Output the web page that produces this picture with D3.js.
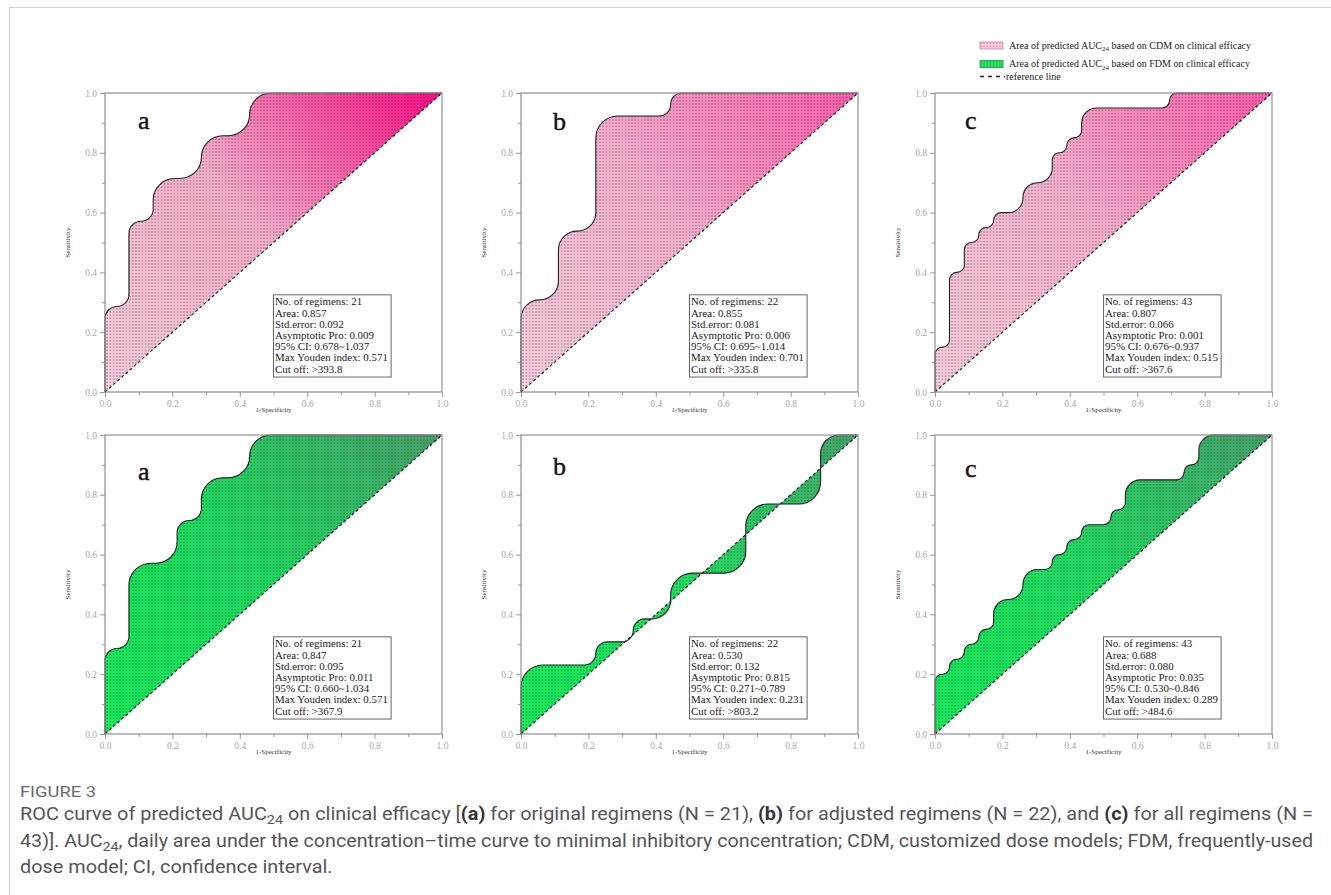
<!DOCTYPE html>
<html><head><meta charset="utf-8">
<script src="https://cdn.jsdelivr.net/npm/d3@7"></script>
<style>body{margin:0;background:#fff}svg{display:block}</style>
</head><body><svg id="c" width="1331" height="895"></svg>
<script>
// ---------- data ----------
const majorTicks = [0.0, 0.2, 0.4, 0.6, 0.8, 1.0];
const minorTicks = [0.1, 0.3, 0.5, 0.7, 0.9];
const panelLetters = ["a", "b", "c"];
const diagonal = [[0, 0], [1, 1]];

// ROC step points [1-specificity, sensitivity]
const rocCdmA = [[0,0],[0,0.286],[0.071,0.286],[0.071,0.571],[0.143,0.571],[0.143,0.714],[0.286,0.714],[0.286,0.857],[0.429,0.857],[0.429,1],[1,1]];
const rocCdmB = [[0,0],[0,0.308],[0.111,0.308],[0.111,0.538],[0.222,0.538],[0.222,0.923],[0.444,0.923],[0.444,1],[1,1]];
const rocCdmC = [[0,0],[0,0.15],[0.043,0.15],[0.043,0.4],[0.087,0.4],[0.087,0.5],[0.13,0.5],[0.13,0.55],[0.174,0.55],[0.174,0.6],[0.261,0.6],[0.261,0.7],[0.348,0.7],[0.348,0.8],[0.391,0.8],[0.391,0.85],[0.435,0.85],[0.435,0.95],[0.696,0.95],[0.696,1],[1,1]];
const rocFdmA = [[0,0],[0,0.286],[0.071,0.286],[0.071,0.571],[0.214,0.571],[0.214,0.714],[0.286,0.714],[0.286,0.857],[0.429,0.857],[0.429,1],[1,1]];
const rocFdmB = [[0,0],[0,0.231],[0.222,0.231],[0.222,0.308],[0.333,0.308],[0.333,0.385],[0.444,0.385],[0.444,0.538],[0.667,0.538],[0.667,0.769],[0.889,0.769],[0.889,1],[1,1]];
const rocFdmC = [[0,0],[0,0.2],[0.043,0.2],[0.043,0.25],[0.087,0.25],[0.087,0.3],[0.13,0.3],[0.13,0.35],[0.174,0.35],[0.174,0.45],[0.261,0.45],[0.261,0.55],[0.348,0.55],[0.348,0.6],[0.391,0.6],[0.391,0.65],[0.435,0.65],[0.435,0.7],[0.522,0.7],[0.522,0.75],[0.565,0.75],[0.565,0.85],[0.739,0.85],[0.739,0.9],[0.783,0.9],[0.783,1],[1,1]];

const statsCdmA = ["No. of regimens: 21","Area: 0.857","Std.error: 0.092","Asymptotic Pro: 0.009","95% CI: 0.678~1.037","Max Youden index: 0.571","Cut off: >393.8"];
const statsCdmB = ["No. of regimens: 22","Area: 0.855","Std.error: 0.081","Asymptotic Pro: 0.006","95% CI: 0.695~1.014","Max Youden index: 0.701","Cut off: >335.8"];
const statsCdmC = ["No. of regimens: 43","Area: 0.807","Std.error: 0.066","Asymptotic Pro: 0.001","95% CI: 0.676~0.937","Max Youden index: 0.515","Cut off: >367.6"];
const statsFdmA = ["No. of regimens: 21","Area: 0.847","Std.error: 0.095","Asymptotic Pro: 0.011","95% CI: 0.660~1.034","Max Youden index: 0.571","Cut off: >367.9"];
const statsFdmB = ["No. of regimens: 22","Area: 0.530","Std.error: 0.132","Asymptotic Pro: 0.815","95% CI: 0.271~0.789","Max Youden index: 0.231","Cut off: >803.2"];
const statsFdmC = ["No. of regimens: 43","Area: 0.688","Std.error: 0.080","Asymptotic Pro: 0.035","95% CI: 0.530~0.846","Max Youden index: 0.289","Cut off: >484.6"];

const legendLabels = ["based on CDM on clinical efficacy", "based on FDM on clinical efficacy", "reference line"];
const xTitle = "1-Specificity", yTitle = "Sensitivity";

// ---------- drawing ----------
const svg = d3.select("#c");
const defs = svg.append("defs");
const SERIF = "'Liberation Serif','Times New Roman',serif";
const SANS = "Roboto,'Noto Sans',sans-serif";

// outer frame
svg.append("path").attr("d", "M9.5,895V7.5H1331").attr("fill", "none").attr("stroke", "#cfcfcf").attr("stroke-width", 1.2);

// dot pattern
const pat = defs.append("pattern").attr("id", "dots").attr("patternUnits", "userSpaceOnUse")
  .attr("width", 3.2).attr("height", 3.2);
pat.append("circle").attr("cx", 1.6).attr("cy", 1.6).attr("r", 0.62).attr("fill", "#1a1a1a").attr("fill-opacity", 0.8);

// step curve with rounded corners (pixel space, built with d3.path)
function roundedStep(pts, R, k) {
  const p = d3.path();
  p.moveTo(pts[0][0], pts[0][1]);
  for (let i = 1; i < pts.length - 1; i++) {
    const A = pts[i - 1], P = pts[i], B = pts[i + 1];
    const d1 = Math.hypot(P[0] - A[0], P[1] - A[1]), d2 = Math.hypot(B[0] - P[0], B[1] - P[1]);
    const r = Math.min(R, d1 / 2, d2 / 2);
    const a = [P[0] + (A[0] - P[0]) * r / d1, P[1] + (A[1] - P[1]) * r / d1];
    const b = [P[0] + (B[0] - P[0]) * r / d2, P[1] + (B[1] - P[1]) * r / d2];
    p.lineTo(a[0], a[1]);
    p.bezierCurveTo(a[0] + (P[0] - a[0]) * k, a[1] + (P[1] - a[1]) * k,
                    b[0] + (P[0] - b[0]) * k, b[1] + (P[1] - b[1]) * k, b[0], b[1]);
  }
  const L = pts[pts.length - 1];
  p.lineTo(L[0], L[1]);
  return p.toString();
}

const colX = [105, 521, 935], rowY = [93, 435], W = 337, H = 299;
const letterDX = [33, 32, 30], letterDY = [[36, 37, 36], [45, 40, 42]];

const panels = [
  {row:0, col:0, roc:rocCdmA, stats:statsCdmA, stops:["#f9d0e2","#f6b0cd","#ff0a86"]},
  {row:0, col:1, roc:rocCdmB, stats:statsCdmB, stops:["#f9d0e2","#f7b4d1","#ff5cae"]},
  {row:0, col:2, roc:rocCdmC, stats:statsCdmC, stops:["#f9d0e2","#f7b4d1","#ff5cae"]},
  {row:1, col:0, roc:rocFdmA, stats:statsFdmA, stops:["#16ef5c","#20dc61","#48a46d"]},
  {row:1, col:1, roc:rocFdmB, stats:statsFdmB, stops:["#16ef5c","#22e262","#46a86c"]},
  {row:1, col:2, roc:rocFdmC, stats:statsFdmC, stops:["#16ef5c","#22de62","#46a66d"]},
];

panels.forEach((p, i) => {
  const x0 = colX[p.col], y0 = rowY[p.row];
  const x = d3.scaleLinear().domain([0, 1]).range([x0, x0 + W]);
  const y = d3.scaleLinear().domain([0, 1]).range([y0 + H, y0]);
  const g = svg.append("g");

  const gid = "grad" + i;
  const grad = defs.append("linearGradient").attr("id", gid).attr("gradientUnits", "userSpaceOnUse")
    .attr("x1", x(0)).attr("y1", y(0)).attr("x2", x(1)).attr("y2", y(1));
  grad.append("stop").attr("offset", 0).attr("stop-color", p.stops[0]);
  grad.append("stop").attr("offset", 0.5).attr("stop-color", p.stops[1]);
  grad.append("stop").attr("offset", 1).attr("stop-color", p.stops[2]);

  const px = p.roc.map(d => [x(d[0]), y(d[1])]);
  const curveD = roundedStep(px, 22, 0.55);
  const areaD = curveD + "Z"; // closes along the diagonal back to (0,0)

  g.append("path").attr("d", areaD).attr("fill", `url(#${gid})`);
  g.append("path").attr("d", areaD).attr("fill", "url(#dots)");
  g.append("path").attr("d", curveD).attr("fill", "none").attr("stroke", "#222").attr("stroke-width", 1.1);
  g.append("path").datum(diagonal).attr("d", d3.line().x(d => x(d[0])).y(d => y(d[1])))
    .attr("stroke", "#111").attr("stroke-width", 1.1).attr("stroke-dasharray", "3,2.5");

  // axes
  const tf = d3.format(".1f");
  const styleAxis = a => {
    a.select(".domain").remove();
    a.selectAll("line").attr("stroke", "#999");
    a.selectAll("text").attr("fill", "#a8a8a8").style("font-family", SERIF).style("font-size", "9.5px");
  };
  g.append("g").attr("transform", `translate(${x0},0)`).call(d3.axisLeft(y).tickValues(majorTicks).tickFormat(tf).tickSize(5).tickPadding(3)).call(styleAxis);
  g.append("g").attr("transform", `translate(${x0},0)`).call(d3.axisLeft(y).tickValues(minorTicks).tickFormat("").tickSize(3)).call(styleAxis);
  g.append("g").attr("transform", `translate(0,${y0 + H})`).call(d3.axisBottom(x).tickValues(majorTicks).tickFormat(tf).tickSize(5).tickPadding(3)).call(styleAxis);
  g.append("g").attr("transform", `translate(0,${y0 + H})`).call(d3.axisBottom(x).tickValues(minorTicks).tickFormat("").tickSize(3)).call(styleAxis);

  // frame
  g.append("rect").attr("x", x0).attr("y", y0).attr("width", W).attr("height", H)
    .attr("fill", "none").attr("stroke", "#8f8f8f").attr("stroke-width", 1.2);

  // titles
  g.append("text").attr("x", x0 + W / 2).attr("y", y0 + H + 20).attr("text-anchor", "middle")
    .style("font-family", SERIF).style("font-size", "7px").attr("fill", "#333").text(xTitle);
  g.append("text").attr("transform", `translate(${x0 - 35},${y0 + H / 2}) rotate(-90)`).attr("text-anchor", "middle")
    .style("font-family", SERIF).style("font-size", "7px").attr("fill", "#333").text(yTitle);

  // letter
  g.append("text").attr("x", x0 + letterDX[p.col]).attr("y", y0 + letterDY[p.row][p.col])
    .style("font-family", SERIF).style("font-size", "26px").attr("fill", "#111")
    .attr("stroke", "#111").attr("stroke-width", 0.4).text(panelLetters[p.col]);

  // stats box
  const bx = x(0.5), by = y(0.325), bw = x(0.849) - x(0.5), bh = y(0.05) - y(0.325);
  g.append("rect").attr("x", bx).attr("y", by).attr("width", bw).attr("height", bh)
    .attr("fill", "#fff").attr("stroke", "#666").attr("stroke-width", 1);
  g.selectAll(null).data(p.stats).join("text")
    .attr("x", bx + 1.5).attr("y", (d, k) => by + 10.5 + k * 11.2)
    .style("font-family", SERIF).style("font-size", "10.9px").attr("fill", "#222").text(d => d);
});

// legend
const lg = svg.append("g");
const legFills = [["#f9c6dc", "#e07fb0"], ["#22e262", "#159a48"]];
legFills.forEach((f, k) => {
  const yy = 42 + k * 18.5;
  lg.append("rect").attr("x", 980).attr("y", yy).attr("width", 23).attr("height", 7).attr("fill", f[0]).attr("stroke", f[1]).attr("stroke-width", 0.8);
  lg.append("rect").attr("x", 980).attr("y", yy).attr("width", 23).attr("height", 7).attr("fill", "url(#dots)").attr("opacity", 0.5);
  const t = lg.append("text").attr("x", 1009).attr("y", yy + 6.5).style("font-family", SERIF).style("font-size", "10px").attr("fill", "#222");
  t.append("tspan").text("Area of predicted AUC");
  t.append("tspan").attr("dy", 2.5).style("font-size", "7px").text("24");
  t.append("tspan").attr("dy", -2.5).text(" " + legendLabels[k]);
});
lg.append("line").attr("x1", 980).attr("x2", 1005).attr("y1", 76.5).attr("y2", 76.5).attr("stroke", "#222").attr("stroke-width", 1.5).attr("stroke-dasharray", "4,4");
lg.append("text").attr("x", 1006).attr("y", 80).style("font-family", SERIF).style("font-size", "10px").attr("fill", "#222").text(legendLabels[2]);

// caption
const cap = svg.append("g").attr("fill", "#555").style("font-family", SANS);
cap.append("text").attr("x", 20).attr("y", 797).style("font-size", "15px").attr("fill", "#6a6a6a")
  .attr("textLength", 76).attr("lengthAdjust", "spacingAndGlyphs").text("FIGURE 3");
const capLines = [
  [["ROC curve of predicted AUC"], ["24", "sub"], [" on clinical efficacy ["], ["(a)", "b"], [" for original regimens (N = 21), "], ["(b)", "b"], [" for adjusted regimens (N = 22), and "], ["(c)", "b"], [" for all regimens (N ="]],
  [["43)]. AUC"], ["24", "sub"], [", daily area under the concentration\u2013time curve to minimal inhibitory concentration; CDM, customized dose models; FDM, frequently-used"]],
  [["dose model; CI, confidence interval."]]
];
const capY = [820, 847, 873];
const texts = capLines.map((ln, k) => {
  const t = cap.append("text").attr("x", 20).attr("y", capY[k]).style("font-size", "18px");
  let prevSub = false;
  ln.forEach(s => {
    const ts = t.append("tspan").text(s[0]);
    if (s[1] === "sub") { ts.attr("dy", 4).attr("font-size", "0.72em"); }
    else if (prevSub) { ts.attr("dy", -4); }
    if (s[1] === "b") { ts.attr("font-weight", "bold").attr("fill", "#333"); }
    prevSub = s[1] === "sub";
  });
  return t;
});
const targets = [1293, 1293];
const ratio = targets[0] / texts[0].node().getComputedTextLength();
texts.forEach((t, k) => {
  const target = k < 2 ? targets[k] : t.node().getComputedTextLength() * ratio;
  t.attr("textLength", target).attr("lengthAdjust", "spacingAndGlyphs");
});
</script></body></html>
